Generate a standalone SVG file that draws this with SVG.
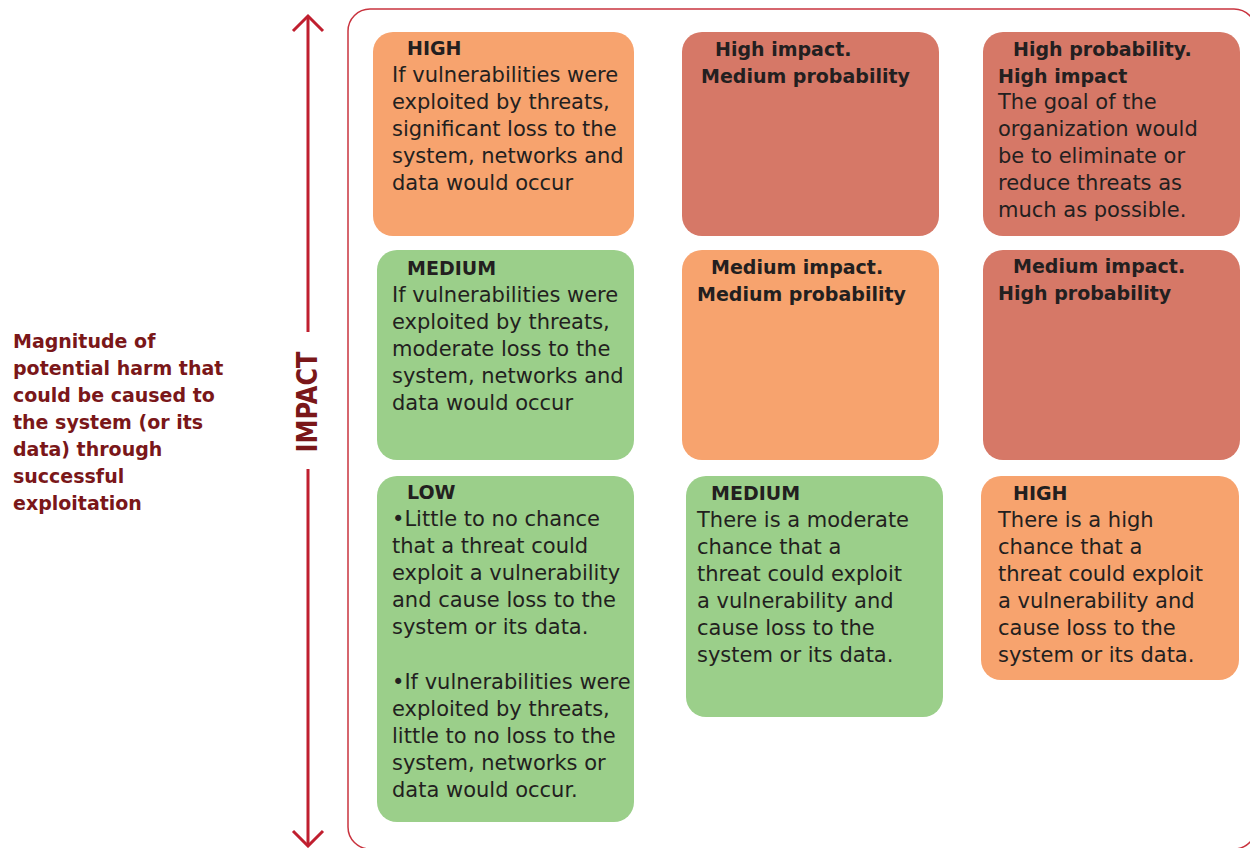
<svg xmlns="http://www.w3.org/2000/svg" width="1250" height="848" viewBox="0 0 1250 848">
  <style>
    .box { stroke: none; }
    .orange { fill: #F7A36E; }
    .red { fill: #D67867; }
    .green { fill: #9BCF8A; }
    .title { font-family: "DejaVu Sans", "Liberation Sans", sans-serif; font-weight: bold; font-size: 19px; fill: #231F20; }
    .body { font-family: "DejaVu Sans", "Liberation Sans", sans-serif; font-size: 21px; fill: #231F20; }
    .side { font-family: "DejaVu Sans", "Liberation Sans", sans-serif; font-weight: bold; font-size: 19px; fill: #7A1719; }
    .axis { stroke: #C01F2F; stroke-width: 3; fill: none; }
    .frame { stroke: #C9343F; stroke-width: 1.5; fill: none; }
  </style>

  <!-- outer frame around the grid -->
  <rect class="frame" x="348" y="9" width="908" height="840" rx="22" ry="22"/>

  <!-- side description -->
  <g id="side-label">
    <text class="side">
      <tspan x="13" y="348">Magnitude of</tspan>
      <tspan x="13" y="375">potential harm that</tspan>
      <tspan x="13" y="402">could be caused to</tspan>
      <tspan x="13" y="429">the system (or its</tspan>
      <tspan x="13" y="456">data) through</tspan>
      <tspan x="13" y="483">successful</tspan>
      <tspan x="13" y="510">exploitation</tspan>
    </text>
  </g>

  <!-- impact axis -->
  <g id="connectors">
    <path class="axis" d="M308 16 V332 M308 469 V846"/>
    <path class="axis" d="M293 31 L308 16 L323 31"/>
    <path class="axis" d="M293 831 L308 846 L323 831"/>
    <text transform="translate(317 402) rotate(-90)" text-anchor="middle" textLength="101" lengthAdjust="spacingAndGlyphs" style="font-family: 'DejaVu Sans', 'Liberation Sans', sans-serif; font-weight: bold; font-size: 29px; fill: #7A1719;">IMPACT</text>
  </g>

  <!-- row 1 -->
  <g id="impact-high">
    <rect class="box orange" x="373" y="32" width="261" height="204" rx="20"/>
    <text class="title" x="407" y="55">HIGH</text>
    <text class="body">
      <tspan x="392" y="82">If vulnerabilities were</tspan>
      <tspan x="392" y="109">exploited by threats,</tspan>
      <tspan x="392" y="136">significant loss to the</tspan>
      <tspan x="392" y="163">system, networks and</tspan>
      <tspan x="392" y="190">data would occur</tspan>
    </text>
  </g>

  <g id="high-impact-medium-prob">
    <rect class="box red" x="682" y="32" width="257" height="204" rx="20"/>
    <text class="title">
      <tspan x="715" y="56">High impact.</tspan>
      <tspan x="701" y="83">Medium probability</tspan>
    </text>
  </g>

  <g id="high-impact-high-prob">
    <rect class="box red" x="983" y="32" width="257" height="204" rx="20"/>
    <text class="title">
      <tspan x="1013" y="56">High probability.</tspan>
      <tspan x="998" y="83">High impact</tspan>
    </text>
    <text class="body">
      <tspan x="998" y="109">The goal of the</tspan>
      <tspan x="998" y="136">organization would</tspan>
      <tspan x="998" y="163">be to eliminate or</tspan>
      <tspan x="998" y="190">reduce threats as</tspan>
      <tspan x="998" y="217">much as possible.</tspan>
    </text>
  </g>

  <!-- row 2 -->
  <g id="impact-medium">
    <rect class="box green" x="377" y="250" width="257" height="210" rx="20"/>
    <text class="title" x="407" y="275">MEDIUM</text>
    <text class="body">
      <tspan x="392" y="302">If vulnerabilities were</tspan>
      <tspan x="392" y="329">exploited by threats,</tspan>
      <tspan x="392" y="356">moderate loss to the</tspan>
      <tspan x="392" y="383">system, networks and</tspan>
      <tspan x="392" y="410">data would occur</tspan>
    </text>
  </g>

  <g id="medium-impact-medium-prob">
    <rect class="box orange" x="682" y="250" width="257" height="210" rx="20"/>
    <text class="title">
      <tspan x="711" y="274">Medium impact.</tspan>
      <tspan x="697" y="301">Medium probability</tspan>
    </text>
  </g>

  <g id="medium-impact-high-prob">
    <rect class="box red" x="983" y="250" width="257" height="210" rx="20"/>
    <text class="title">
      <tspan x="1013" y="273">Medium impact.</tspan>
      <tspan x="998" y="300">High probability</tspan>
    </text>
  </g>

  <!-- row 3: probability levels -->
  <g id="probability-low">
    <rect class="box green" x="377" y="476" width="257" height="346" rx="20"/>
    <text class="title" x="407" y="499">LOW</text>
    <text class="body">
      <tspan x="392" y="526">•Little to no chance</tspan>
      <tspan x="392" y="553">that a threat could</tspan>
      <tspan x="392" y="580">exploit a vulnerability</tspan>
      <tspan x="392" y="607">and cause loss to the</tspan>
      <tspan x="392" y="634">system or its data.</tspan>
      <tspan x="392" y="689">•If vulnerabilities were</tspan>
      <tspan x="392" y="716">exploited by threats,</tspan>
      <tspan x="392" y="743">little to no loss to the</tspan>
      <tspan x="392" y="770">system, networks or</tspan>
      <tspan x="392" y="797">data would occur.</tspan>
    </text>
  </g>

  <g id="probability-medium">
    <rect class="box green" x="686" y="476" width="257" height="241" rx="20"/>
    <text class="title" x="711" y="500">MEDIUM</text>
    <text class="body">
      <tspan x="697" y="527">There is a moderate</tspan>
      <tspan x="697" y="554">chance that a</tspan>
      <tspan x="697" y="581">threat could exploit</tspan>
      <tspan x="697" y="608">a vulnerability and</tspan>
      <tspan x="697" y="635">cause loss to the</tspan>
      <tspan x="697" y="662">system or its data.</tspan>
    </text>
  </g>

  <g id="probability-high">
    <rect class="box orange" x="981" y="476" width="258" height="204" rx="20"/>
    <text class="title" x="1013" y="500">HIGH</text>
    <text class="body">
      <tspan x="998" y="527">There is a high</tspan>
      <tspan x="998" y="554">chance that a</tspan>
      <tspan x="998" y="581">threat could exploit</tspan>
      <tspan x="998" y="608">a vulnerability and</tspan>
      <tspan x="998" y="635">cause loss to the</tspan>
      <tspan x="998" y="662">system or its data.</tspan>
    </text>
  </g>
</svg>
